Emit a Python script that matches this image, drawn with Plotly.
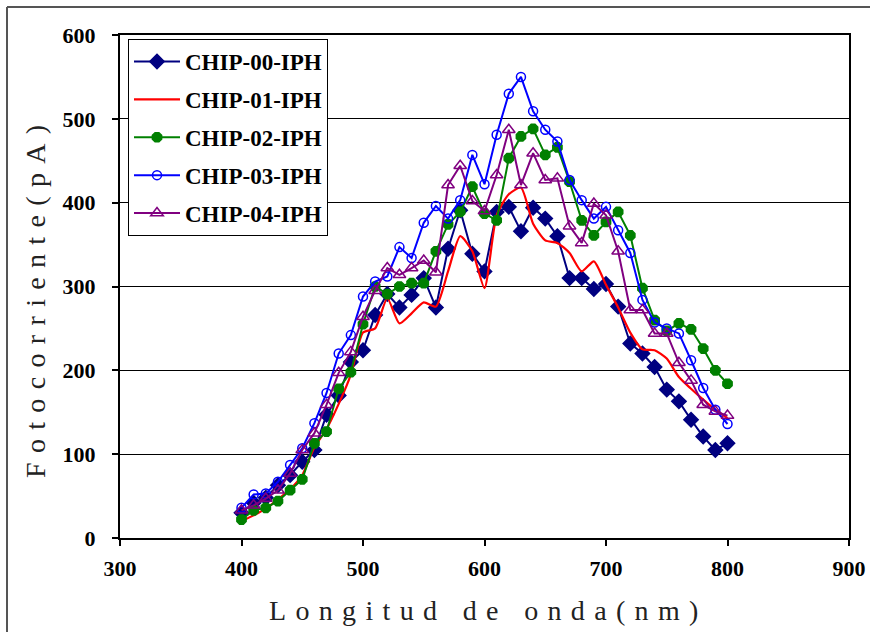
import plotly.graph_objects as go

# Wavelength grid (nm)
wavelength = list(range(400, 801, 10))

# Photocurrent (pA) per chip
chip00 = [30, 42, 48, 63, 75, 91, 105, 147, 170, 210, 224, 266, 291, 275, 290, 310, 275, 345, 391, 339,
          318, 389, 395, 366, 394, 381, 360, 310, 310, 297, 303, 276, 232, 220, 204, 177, 163, 141, 121, 105, 113]
chip01 = [20, 27, 35, 46, 58, 75, 108, 130, 160, 195, 245, 250, 286, 256, 268, 281, 276, 318, 360, 342,
          298, 385, 410, 418, 375, 355, 352, 340, 318, 330, 302, 275, 245, 225, 224, 214, 192, 178, 165, 153, 143]
chip02 = [22, 33, 36, 44, 57, 70, 113, 127, 178, 198, 255, 300, 291, 300, 304, 304, 342, 374, 389, 419,
          387, 379, 453, 479, 488, 457, 466, 425, 379, 361, 377, 389, 361, 298, 260, 247, 256, 249, 226, 200, 184]
chip03 = [36, 52, 53, 67, 87, 107, 137, 173, 220, 242, 288, 306, 312, 347, 334, 376, 396, 381, 403, 457,
          422, 481, 530, 550, 509, 487, 473, 427, 403, 381, 395, 367, 340, 284, 257, 250, 244, 212, 179, 153, 136]
chip04 = [33, 39, 47, 57, 77, 105, 125, 159, 197, 222, 264, 295, 322, 314, 322, 331, 317, 421, 444, 402,
          390, 433, 487, 421, 459, 427, 429, 372, 352, 399, 385, 342, 272, 272, 244, 244, 209, 188, 159, 151, 146]

series_names = ["CHIP-00-IPH", "CHIP-01-IPH", "CHIP-02-IPH", "CHIP-03-IPH", "CHIP-04-IPH"]
series_values = [chip00, chip01, chip02, chip03, chip04]
series_colors = ["#000080", "#FF0000", "#008000", "#0000FF", "#800080"]
series_symbols = ["diamond", None, "octagon", "circle-open", "triangle-up-open"]
series_sizes = [11, 0, 10, 9, 11]

x_ticks = [300, 400, 500, 600, 700, 800, 900]
y_ticks = [0, 100, 200, 300, 400, 500, 600]

serif = "Liberation Serif, Times New Roman, serif"

fig = go.Figure()
for name, vals, col, sym, sz in zip(series_names, series_values, series_colors,
                                    series_symbols, series_sizes):
    if sym is None:
        fig.add_trace(go.Scatter(x=wavelength, y=vals, name=name, mode="lines",
                                 line=dict(color=col, width=2.2, shape="spline", smoothing=0.6),
                                 legendgroup=name))
    else:
        fig.add_trace(go.Scatter(x=wavelength, y=vals, name=name, mode="lines+markers",
                                 line=dict(color=col, width=2),
                                 marker=dict(symbol=sym, size=sz, color=col,
                                             line=dict(color=col, width=1.5)),
                                 legendgroup=name))

L, T = 120, 35
W, H = 729, 503

fig.update_layout(
    width=870, height=632,
    margin=dict(l=L, r=870 - L - W, t=T, b=632 - T - H, autoexpand=False),
    paper_bgcolor="white", plot_bgcolor="white",
    showlegend=True,
    legend=dict(x=(128 - L) / W, y=(538 - 39) / H, xanchor="left", yanchor="top",
                bgcolor="white", bordercolor="black", borderwidth=1,
                font=dict(family=serif, size=23, color="black", weight="bold"),
                tracegroupgap=5, traceorder="grouped", itemwidth=46),
    xaxis=dict(range=[300, 900], tickvals=x_ticks, ticks="outside", ticklen=6,
               tickwidth=1.5, tickcolor="black", showgrid=False, zeroline=False,
               showline=True, linecolor="black", linewidth=2, mirror=True,
               automargin=False,
               tickfont=dict(family=serif, size=22, color="black", weight="bold"),
               ticklabelstandoff=4),
    yaxis=dict(range=[0, 600], tickvals=y_ticks, ticks="outside", ticklen=6,
               tickwidth=1.5, tickcolor="black", showgrid=True, gridcolor="black",
               gridwidth=1.3, zeroline=False, showline=True, linecolor="black",
               linewidth=2, mirror=True, automargin=False,
               tickfont=dict(family=serif, size=22, color="black", weight="bold"),
               ticklabelstandoff=12),
)

# Letter-spaced axis titles
def spaced(s):
    return "\u2005\u200a".join(s.replace(" ", "\u00a0"))

fig.add_annotation(text=spaced("Longitud de onda(nm)"), xref="paper", yref="paper",
                   x=(483 - L) / W, y=(538 - 610) / H, xanchor="center", yanchor="middle",
                   showarrow=False, font=dict(family=serif, size=28, color="#222"))
fig.add_annotation(text=spaced("Fotocorriente(pA)"), xref="paper", yref="paper",
                   x=(35 - L) / W, y=(538 - 302) / H, xanchor="center", yanchor="middle",
                   textangle=-90, showarrow=False, font=dict(family=serif, size=28, color="#222"))

# Outer frame
fig.add_shape(type="line", xref="paper", yref="paper",
              x0=(7 - L) / W, x1=(880 - L) / W, y0=(538 - 7) / H, y1=(538 - 7) / H,
              line=dict(color="#555", width=2))
fig.add_shape(type="line", xref="paper", yref="paper",
              x0=(7 - L) / W, x1=(7 - L) / W, y0=(538 - 7) / H, y1=(538 - 640) / H,
              line=dict(color="#555", width=2))

fig.write_html("out.html")
